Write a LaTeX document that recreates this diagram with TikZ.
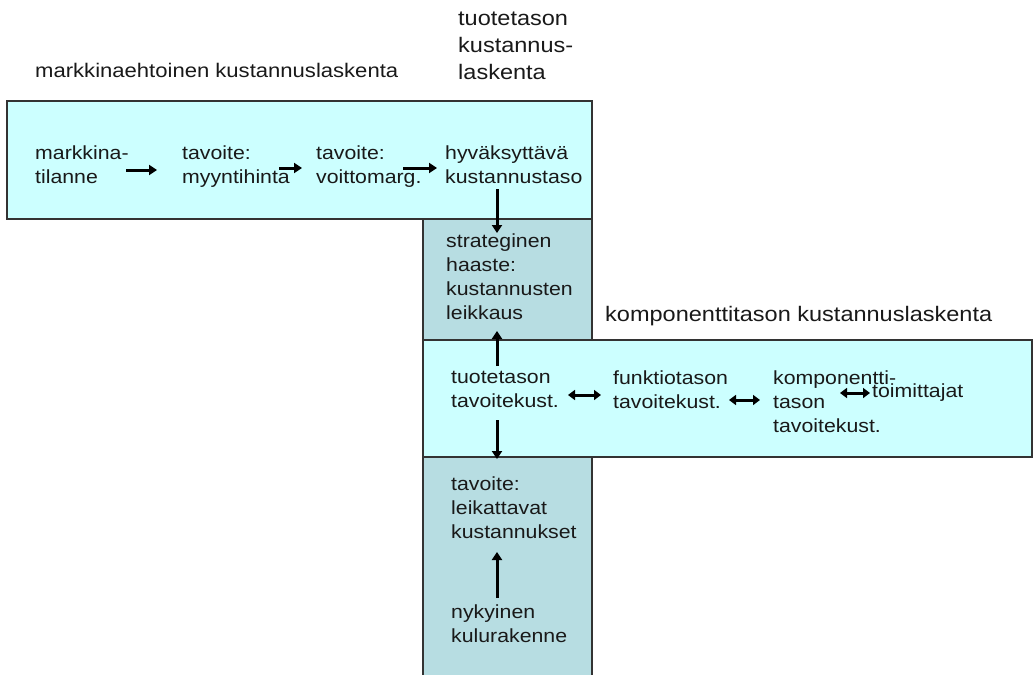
\documentclass[tikz,border=0pt]{standalone}
\usepackage{fontspec}
\setmainfont[FakeStretch=1.12]{Liberation Sans}
\usetikzlibrary{arrows.meta}
\definecolor{panelcyan}{HTML}{CCFFFF}
\definecolor{panelgray}{HTML}{B7DDE2}
\definecolor{edge}{HTML}{333333}
\tikzset{
  panel/.style={draw=edge, line width=1.4pt},
  boxtext/.style={anchor=north west, inner sep=0pt, align=left,
    font=\fontsize{19}{24}\selectfont, text=black!90},
  headtext/.style={anchor=north west, inner sep=0pt, align=left,
    font=\fontsize{21}{27}\selectfont, text=black!90},
  arr/.style={line width=3pt, -{Triangle[length=8pt,width=10pt]}},
  darr/.style={line width=3pt, {Triangle[length=7pt,width=10pt]}-{Triangle[length=7pt,width=10pt]}}
}
\begin{document}
\begin{tikzpicture}[x=1pt,y=-1pt]
\useasboundingbox (0,0) rectangle (1035,674);
\begin{scope}
\clip (0,0) rectangle (1035,674);
% vertical column (product level)
\fill[panelgray] (423,219) rectangle (592,700);
\draw[panel] (423,219) -- (423,700) (592,219) -- (592,700);
% market-driven costing panel
\filldraw[panel, fill=panelcyan] (7,101) rectangle (592,219);
% component-level costing panel
\filldraw[panel, fill=panelcyan] (423,340) rectangle (1032,457);
\end{scope}

% headings
\node[headtext, font=\fontsize{19.7}{27}\selectfont] (h1) at (35,63) {markkinaehtoinen kustannuslaskenta};
\node[headtext] (h2) at (458,12) {tuotetason\\kustannus-\\laskenta};
\node[headtext] (h3) at (605,306) {komponenttitason kustannuslaskenta};

% market-driven chain
\node[boxtext] (m1) at (35,146) {markkina-\\tilanne};
\node[boxtext] (t1) at (182,146) {tavoite:\\myyntihinta};
\node[boxtext] (t2) at (316,146) {tavoite:\\voittomarg.};
\node[boxtext] (t3) at (445,146) {hyväksyttävä\\kustannustaso};

% product column
\node[boxtext] (s1) at (446,234) {strateginen\\haaste:\\kustannusten\\leikkaus};
\node[boxtext] (p1) at (451,371) {tuotetason\\tavoitekust.};
\node[boxtext] (l1) at (451,477) {tavoite:\\leikattavat\\kustannukset};
\node[boxtext] (n1) at (451,605) {nykyinen\\kulurakenne};

% component chain
\node[boxtext] (f1) at (613,371) {funktiotason\\tavoitekust.};
\node[boxtext] (k1) at (773,371) {komponentti-\\tason\\tavoitekust.};
\node[boxtext] (o1) at (872,384) {toimittajat};

% connectors
\draw[arr] ([xshift=126pt-35pt]m1.west |- 0,170) -- ([xshift=-25pt]t1.west |- 0,170);
\draw[arr] ([xshift=279pt-182pt]t1.west |- 0,168) -- ([xshift=-14pt]t2.west |- 0,168);
\draw[arr] ([xshift=403pt-316pt]t2.west |- 0,168) -- ([xshift=-8pt]t3.west |- 0,168);
\draw[arr] ([xshift=52pt]t3.west |- 0,189) -- ([xshift=51pt]s1.north west |- 0,233);
\draw[arr] ([xshift=46pt]p1.north west |- 0,366) -- ([xshift=46pt]p1.north west |- 0,331);
\draw[arr] ([xshift=46pt]p1.west |- 0,420) -- ([xshift=46pt]l1.north west |- 0,459);
\draw[arr] ([xshift=46pt]n1.north west |- 0,598) -- ([xshift=46pt]l1.west |- 0,552);
\draw[darr] ([xshift=117pt]p1.west |- 0,395) -- ([xshift=-12pt]f1.west |- 0,395);
\draw[darr] ([xshift=116pt]f1.west |- 0,400) -- ([xshift=-13pt]k1.west |- 0,400);
\draw[darr] ([xshift=67pt]k1.west |- 0,393) -- ([xshift=-2pt]o1.west |- 0,393);
\end{tikzpicture}
\end{document}
